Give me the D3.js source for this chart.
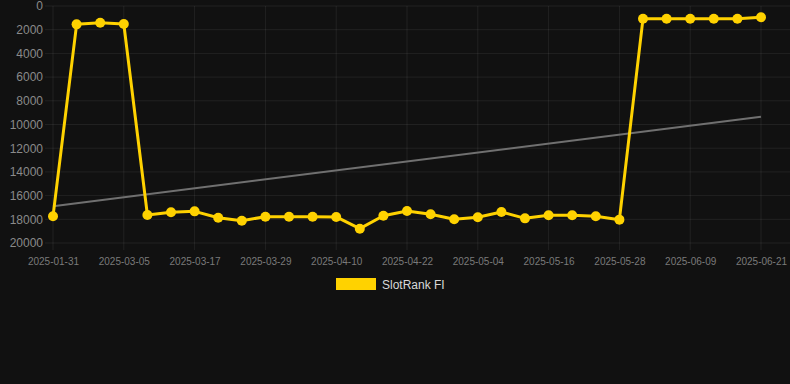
<!DOCTYPE html>
<html>
<head>
<meta charset="utf-8">
<script src="https://cdn.jsdelivr.net/npm/d3@7"></script>
<style>
  html, body { margin: 0; padding: 0; background: #111111; }
  svg { display: block; }
</style>
</head>
<body>
<svg id="chart" width="790" height="384"></svg>
<script>
const categories = [
  "2025-01-31","2025-02-25","2025-03-01","2025-03-05","2025-03-09","2025-03-13",
  "2025-03-17","2025-03-21","2025-03-25","2025-03-29","2025-04-02","2025-04-06",
  "2025-04-10","2025-04-14","2025-04-18","2025-04-22","2025-04-26","2025-04-30",
  "2025-05-04","2025-05-08","2025-05-12","2025-05-16","2025-05-20","2025-05-24",
  "2025-05-28","2025-06-01","2025-06-05","2025-06-09","2025-06-13","2025-06-17",
  "2025-06-21"
];
const rankValues = [
  17750, 1550, 1410, 1520, 17640, 17410,
  17330, 17870, 18120, 17780, 17780, 17780,
  17800, 18790, 17700, 17300, 17580, 18000,
  17830, 17380, 17920, 17660, 17660, 17750,
  18030, 1070, 1070, 1070, 1070, 1070,
  950
];
const trendValues = [16900, 9340];
const yTicks = [0, 2000, 4000, 6000, 8000, 10000, 12000, 14000, 16000, 18000, 20000];
const seriesName = "SlotRank FI";

const svg = d3.select("#chart");
const x = d3.scalePoint().domain(categories).range([53, 761]);
const y = d3.scaleLinear().domain([0, 20000]).range([6, 243]);

const gridColor = "rgba(255,255,255,0.07)";
const labeled = categories.filter((d, i) => i % 3 === 0);

// horizontal grid
svg.append("g").selectAll("line").data(yTicks).join("line")
  .attr("x1", 45).attr("x2", 790)
  .attr("y1", d => y(d)).attr("y2", d => y(d))
  .attr("stroke", gridColor).attr("stroke-width", 1);

// vertical grid
svg.append("g").selectAll("line").data(labeled).join("line")
  .attr("x1", d => x(d)).attr("x2", d => x(d))
  .attr("y1", 6).attr("y2", 250)
  .attr("stroke", gridColor).attr("stroke-width", 1);

// y axis labels
const yAxis = d3.axisLeft(y).tickValues(yTicks).tickSize(0).tickPadding(0).tickFormat(d => String(d));
const gy = svg.append("g").attr("transform", "translate(43,0)").call(yAxis);
gy.select(".domain").remove();
gy.selectAll("text").attr("fill", "#8a8a8a").attr("font-size", 12)
  .attr("font-family", "Liberation Sans, Arial, sans-serif");

// x axis labels
const xAxis = d3.axisBottom(x).tickValues(labeled).tickSize(0).tickPadding(0);
const gx = svg.append("g").attr("transform", "translate(0,257.5)").call(xAxis);
gx.select(".domain").remove();
gx.selectAll("text").attr("fill", "#7a7a7a").attr("font-size", 10)
  .attr("font-family", "Liberation Sans, Arial, sans-serif");

// trend line
svg.append("line")
  .attr("x1", x(categories[0])).attr("y1", y(trendValues[0]))
  .attr("x2", x(categories[categories.length - 1])).attr("y2", y(trendValues[1]))
  .attr("stroke", "#707070").attr("stroke-width", 2);

// main line
const line = d3.line().x((d, i) => x(categories[i])).y(d => y(d));
svg.append("path").datum(rankValues)
  .attr("d", line).attr("fill", "none")
  .attr("stroke", "#FFD200").attr("stroke-width", 3)
  .attr("stroke-linejoin", "round");

svg.append("g").selectAll("circle").data(rankValues).join("circle")
  .attr("cx", (d, i) => x(categories[i])).attr("cy", d => y(d))
  .attr("r", 5).attr("fill", "#FFD200");

// legend
const lg = svg.append("g");
lg.append("rect").attr("x", 336).attr("y", 278).attr("width", 40).attr("height", 12)
  .attr("fill", "#FFD200");
lg.append("text").attr("x", 382).attr("y", 289).text(seriesName)
  .attr("fill", "#d8d8d8").attr("font-size", 12)
  .attr("font-family", "Liberation Sans, Arial, sans-serif");
</script>
</body>
</html>
